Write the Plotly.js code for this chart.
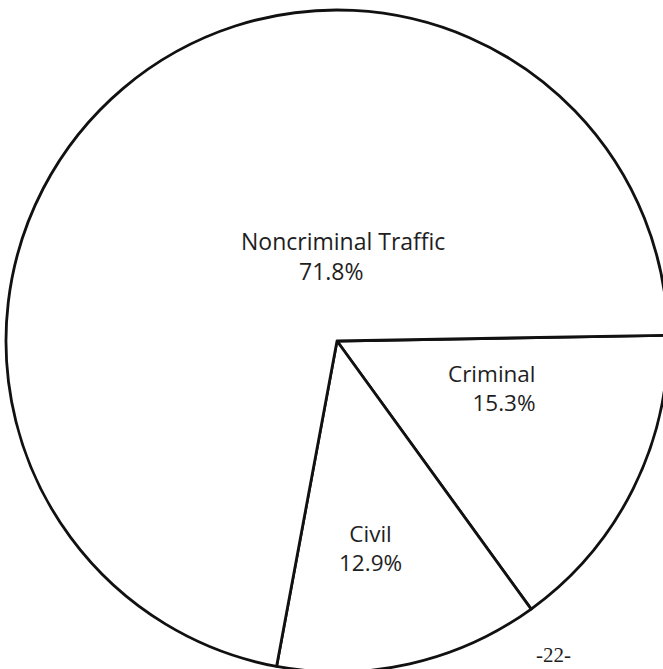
<!DOCTYPE html>
<html>
<head>
<meta charset="utf-8">
<script src="https://cdn.plot.ly/plotly-3.0.1.min.js"></script>
<style>
html, body { margin: 0; padding: 0; overflow: hidden; background: #fff; }
#chart { width: 680px; height: 700px; }
</style>
</head>
<body>
<div id="chart"></div>
<script>
// Data
const labels = ["Criminal", "Civil", "Noncriminal Traffic"];
const values = [15.3, 12.9, 71.8];
const pageNumber = "-22-";

// Label placement (pixels in the 680x700 page)
const W = 680, H = 700;
const labelStyle = [
  { x: 538, y: 388, xanchor: "right", align: "right", size: 22.5, pad: "" },
  { x: 371, y: 548, xanchor: "center", align: "center", size: 22.5, pad: "" },
  { x: 343, y: 256, xanchor: "center", align: "center", size: 23, pad: "\u00a0\u00a0\u00a0\u00a0" }
];

const annotations = labels.map((lab, i) => {
  const s = labelStyle[i];
  return {
    text: lab + "<br>" + values[i].toFixed(1) + "%" + s.pad,
    xref: "paper", yref: "paper",
    x: s.x / W, y: 1 - s.y / H,
    xanchor: s.xanchor, yanchor: "middle", align: s.align,
    showarrow: false,
    font: { family: "Open Sans, sans-serif", size: s.size, color: "#1e1e1e" }
  };
});
annotations.push({
  text: pageNumber, xref: "paper", yref: "paper",
  x: 553 / W, y: 1 - 655 / H, xanchor: "center", yanchor: "middle",
  showarrow: false,
  font: { family: "Liberation Serif, serif", size: 21, color: "#1e1e1e" }
});

const trace = {
  type: "pie",
  labels: labels,
  values: values,
  sort: false,
  direction: "clockwise",
  rotation: 89,
  textinfo: "none",
  hoverinfo: "skip",
  marker: {
    colors: ["#ffffff", "#ffffff", "#ffffff"],
    line: { color: "#111", width: 2.8 }
  },
  domain: { x: [6 / W, 668 / W], y: [28 / H, 690 / H] }
};

const layout = {
  width: W, height: H,
  margin: { l: 0, r: 0, t: 0, b: 0 },
  showlegend: false,
  paper_bgcolor: "#fff",
  annotations: annotations
};

Plotly.newPlot("chart", [trace], layout, { displayModeBar: false, staticPlot: true });
</script>
</body>
</html>
